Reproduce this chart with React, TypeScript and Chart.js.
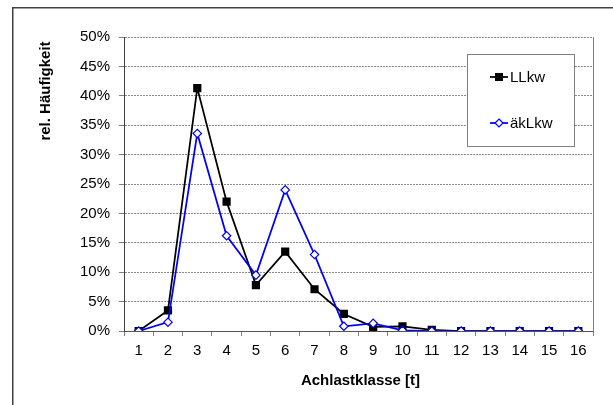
import React, { useEffect, useRef } from "react";
import { Chart, registerables } from "chart.js";

Chart.register(...registerables);

const categories = ["1", "2", "3", "4", "5", "6", "7", "8", "9", "10", "11", "12", "13", "14", "15", "16"];
const llkw = [0, 3.5, 41.3, 22.0, 7.8, 13.5, 7.1, 2.9, 0.7, 0.8, 0.2, 0, 0, 0, 0, 0];
const akLkw = [0, 1.5, 33.6, 16.2, 9.5, 24.0, 13.0, 0.8, 1.3, 0.1, 0, 0, 0, 0, 0, 0];
const seriesNames = ["LLkw", "äkLkw"];
const yTitle = "rel. Häufigkeit";
const xTitle = "Achlastklasse [t]";

const FONT = "'Liberation Sans', Arial, sans-serif";

const decorPlugin = {
  id: "decor",
  beforeDraw(chart: any) {
    const ctx = chart.ctx;
    ctx.save();
    ctx.fillStyle = "#fff";
    ctx.fillRect(0, 0, chart.width, chart.height);
    ctx.strokeStyle = "#404040";
    ctx.lineWidth = 1.5;
    ctx.strokeRect(12.75, 7.75, 700, 500);
    ctx.restore();
  },
  afterDatasetsDraw(chart: any) {
    const ctx = chart.ctx;
    const a = chart.chartArea;
    ctx.save();
    // plot right border
    ctx.strokeStyle = "#808080";
    ctx.lineWidth = 1;
    ctx.beginPath();
    ctx.moveTo(a.right + 0.5, a.top);
    ctx.lineTo(a.right + 0.5, a.bottom + 5);
    ctx.stroke();

    // titles
    ctx.fillStyle = "#000";
    ctx.font = "bold 15px " + FONT;
    ctx.textAlign = "center";
    ctx.textBaseline = "middle";
    ctx.fillText(xTitle, (a.left + a.right) / 2 + 2, 381);
    ctx.save();
    ctx.translate(46, 91);
    ctx.rotate(-Math.PI / 2);
    ctx.fillText(yTitle, 0, 0);
    ctx.restore();

    // legend
    const lx = 467, ly = 54, lw = 107, lh = 92;
    ctx.fillStyle = "#fff";
    ctx.fillRect(lx, ly, lw, lh);
    ctx.strokeStyle = "#808080";
    ctx.lineWidth = 1;
    ctx.strokeRect(lx + 0.5, ly + 0.5, lw, lh);

    const rows = [
      { y: 77, color: "#000", name: seriesNames[0], kind: "rect" },
      { y: 123, color: "#0000ff", name: seriesNames[1], kind: "diamond" },
    ];
    for (const r of rows) {
      ctx.strokeStyle = r.color;
      ctx.lineWidth = 1.75;
      ctx.beginPath();
      ctx.moveTo(490, r.y);
      ctx.lineTo(508, r.y);
      ctx.stroke();
      const cx = 499;
      if (r.kind === "rect") {
        ctx.fillStyle = "#000";
        ctx.fillRect(cx - 4, r.y - 4, 8, 8);
      } else {
        ctx.fillStyle = "#fff";
        ctx.lineWidth = 1.2;
        ctx.beginPath();
        ctx.moveTo(cx, r.y - 4);
        ctx.lineTo(cx + 4, r.y);
        ctx.lineTo(cx, r.y + 4);
        ctx.lineTo(cx - 4, r.y);
        ctx.closePath();
        ctx.fill();
        ctx.stroke();
      }
      ctx.fillStyle = "#000";
      ctx.font = "15px " + FONT;
      ctx.textAlign = "left";
      ctx.textBaseline = "middle";
      ctx.fillText(r.name, 510, r.y + 1);
    }
    ctx.restore();
  },
};

export default function App() {
  const ref = useRef<HTMLCanvasElement | null>(null);
  useEffect(() => {
    if (!ref.current) return;
    const chart = new Chart(ref.current, {
      type: "line",
      data: {
        labels: categories,
        datasets: [
          {
            label: seriesNames[0],
            data: llkw,
            borderColor: "#000",
            backgroundColor: "#000",
            borderWidth: 1.75,
            pointStyle: "rect",
            pointRadius: 5.8,
            pointBorderWidth: 0,
            pointBackgroundColor: "#000",
            order: 2,
          },
          {
            label: seriesNames[1],
            data: akLkw,
            borderColor: "#0000ff",
            backgroundColor: "#fff",
            borderWidth: 1.75,
            pointStyle: "rectRot",
            pointRadius: 4.2,
            pointBorderWidth: 1.2,
            pointBackgroundColor: "#fff",
            pointBorderColor: "#0000ff",
            order: 1,
          },
        ],
      },
      options: {
        responsive: false,
        animation: false,
        layout: { padding: { top: 37, left: 0, right: 20, bottom: 0 } },
        plugins: { legend: { display: false }, tooltip: { enabled: false } },
        scales: {
          x: {
            offset: true,
            afterFit: (s: any) => {
              s.height = 74;
            },
            grid: {
              offset: true,
              drawOnChartArea: false,
              drawTicks: true,
              tickLength: 5,
              tickColor: "#808080",
            },
            border: { color: "#555", width: 1 },
            ticks: {
              color: "#000",
              font: { family: FONT, size: 15 },
              padding: 6,
              maxRotation: 0,
              autoSkip: false,
            },
          },
          y: {
            min: 0,
            max: 50,
            afterFit: (s: any) => {
              s.width = 124;
            },
            grid: {
              color: "#8a8a8a",
              lineWidth: 1,
              tickLength: 5,
              tickColor: "#808080",
              drawTicks: true,
            },
            border: { color: "#404040", width: 1, dash: [2, 1] },
            ticks: {
              stepSize: 5,
              color: "#000",
              font: { family: FONT, size: 15 },
              padding: 9,
              callback: (v: any) => v + "%",
            },
          },
        },
      },
      plugins: [decorPlugin],
    });
    return () => chart.destroy();
  }, []);
  return (
    <canvas
      ref={ref}
      width={613}
      height={405}
      style={{ position: "fixed", left: 0, top: 0, width: 613, height: 405 }}
    />
  );
}
